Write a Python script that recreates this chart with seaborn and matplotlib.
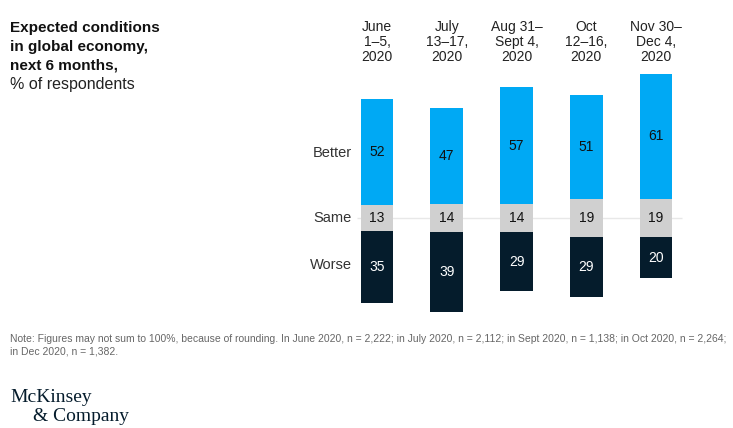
import numpy as np
import pandas as pd
import seaborn as sns
import matplotlib.pyplot as plt

# survey waves and shares (% of respondents)
periods = ["June\n1–5,\n2020", "July\n13–17,\n2020", "Aug 31–\nSept 4,\n2020",
           "Oct\n12–16,\n2020", "Nov 30–\nDec 4,\n2020"]
better = [52, 47, 57, 51, 61]
same = [13, 14, 14, 19, 19]
worse = [35, 39, 29, 29, 20]
rows = ["Better", "Same", "Worse"]

blue = "#00A9F4"
grey = "#D0D0D0"
navy = "#051C2C"

df = pd.DataFrame({"period": periods, "better": better, "same": same, "worse": worse})
# bars are centred on the middle of the "Same" segment
df["half"] = df["same"] / 2
df["neg_half"] = -df["half"]
df["top"] = df["half"] + df["better"]
df["bottom"] = -(df["half"] + df["worse"])

sns.set_theme(style="white")
plt.rcParams["font.family"] = ["Liberation Sans", "DejaVu Sans"]

fig = plt.figure(figsize=(7.33, 4.28), dpi=100)
ax = fig.add_axes([340 / 733, 108 / 428, 360 / 733, 252 / 428])

ax.hlines(0, -0.29, 4.37, color="#e8e8e8", lw=1, zorder=0)

kw = dict(x="period", order=periods, width=0.47, saturation=1, linewidth=0, ax=ax, zorder=2)
sns.barplot(data=df, y="top", color=blue, **kw)
sns.barplot(data=df, y="bottom", color=navy, **kw)
sns.barplot(data=df, y="half", color=grey, **kw)
sns.barplot(data=df, y="neg_half", color=grey, **kw)

for i, r in df.iterrows():
    ax.text(i, r["half"] + r["better"] / 2, f"{r['better']}", ha="center", va="center",
            fontsize=10, color="#111111", zorder=3)
    ax.text(i, 0, f"{r['same']}", ha="center", va="center",
            fontsize=10, color="#111111", zorder=3)
    ax.text(i, -(r["half"] + r["worse"] / 2), f"{r['worse']}", ha="center", va="center",
            fontsize=10, color="white", zorder=3)

# row labels beside the first bar
r0 = df.iloc[0]
row_y = [r0["half"] + r0["better"] / 2 - 0.5, 0, -(r0["half"] + r0["worse"] / 2) + 1]
for lab, y in zip(rows, row_y):
    ax.text(-0.36, y, lab, ha="right", va="center", fontsize=10.5, color="#333333")

ax.set_xlim(-0.53, 4.63)
ax.set_ylim(-50, 73.5)
ax.set_xlabel("")
ax.set_ylabel("")
ax.set_yticks([])
ax.xaxis.tick_top()
ax.tick_params(axis="x", length=0, pad=3, labelsize=10, colors="#222222")
for lbl in ax.get_xticklabels():
    lbl.set_linespacing(1.1)
for s in ax.spines.values():
    s.set_visible(False)

fig.text(10 / 733, 1 - 21 / 428, "Expected conditions\nin global economy,\nnext 6 months,",
         ha="left", va="top", fontsize=11, fontweight="bold", color="#111111", linespacing=1.45)
fig.text(10 / 733, 1 - 77 / 428, "% of respondents", ha="left", va="top",
         fontsize=11.5, color="#222222")

fig.text(10 / 733, 1 - 334 / 428,
         "Note: Figures may not sum to 100%, because of rounding. In June 2020, n = 2,222; in July 2020, "
         "n = 2,112; in Sept 2020, n = 1,138; in Oct 2020, n = 2,264;\nin Dec 2020, n = 1,382.",
         ha="left", va="top", fontsize=7.5, color="#666666", linespacing=1.25)

fig.text(10 / 733, 1 - 389 / 428, "McKinsey", ha="left", va="top",
         fontsize=14, color=navy, family=["Liberation Serif", "DejaVu Serif"])
fig.text(33 / 733, 1 - 408 / 428, "& Company", ha="left", va="top",
         fontsize=14, color=navy, family=["Liberation Serif", "DejaVu Serif"])

fig.savefig("out.png", dpi=100)
